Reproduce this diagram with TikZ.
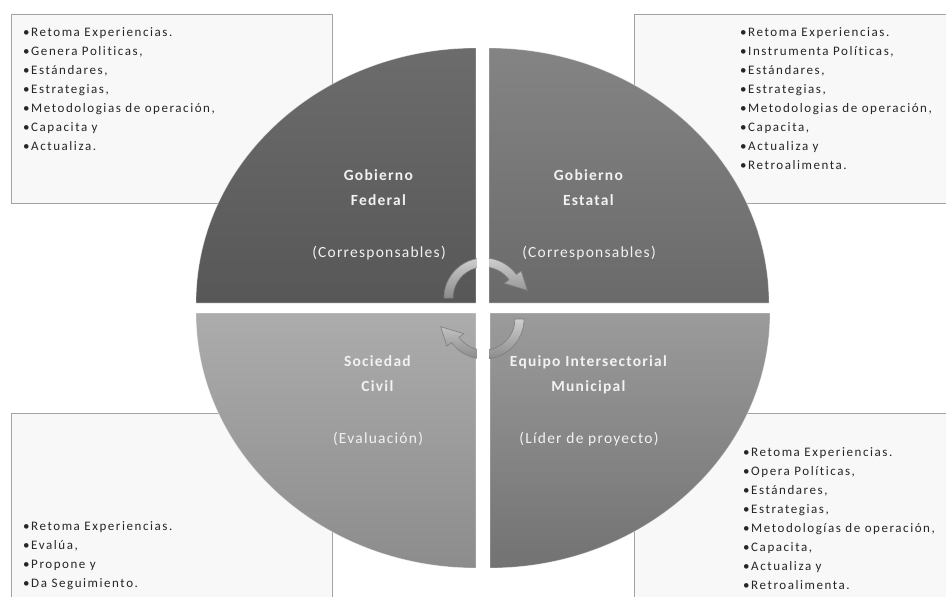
\documentclass[tikz,border=0pt]{standalone}
\usepackage{fontspec}
\setmainfont{Carlito}
\newfontfamily\listfont[LetterSpace=12, Ligatures=NoCommon]{Carlito}
\newfontfamily\labelfont[LetterSpace=8, Ligatures=NoCommon]{Carlito}
\usetikzlibrary{positioning}
\usetikzlibrary{calc}

\definecolor{panelfill}{HTML}{F8F8F8}
\definecolor{panelline}{HTML}{A3A3A3}
\definecolor{listtext}{HTML}{262626}
\definecolor{labeltext}{HTML}{F2F2F2}
\definecolor{federaltop}{HTML}{6C6C6C}
\definecolor{federalbottom}{HTML}{575757}
\definecolor{estataltop}{HTML}{848484}
\definecolor{estatalbottom}{HTML}{6A6A6A}
\definecolor{civiltop}{HTML}{ACACAC}
\definecolor{civilbottom}{HTML}{8C8C8C}
\definecolor{municipaltop}{HTML}{9B9B9B}
\definecolor{municipalbottom}{HTML}{727272}
\definecolor{turnlight}{HTML}{CFCFCF}
\definecolor{turndark}{HTML}{8A8A8A}
\definecolor{turnline}{HTML}{7E7E7E}

\begin{document}
\begin{tikzpicture}[x=1pt, y=-1pt]

\def\QuadRx{280}
\def\QuadRy{255}
\def\TurnOut{40}
\def\TurnIn{31}

% Styles
\tikzstyle{panel} =
	[draw=panelline, fill=panelfill, line width=1.2pt, anchor=north west, inner sep=0pt]

\tikzstyle{list} =
	[align=left, inner sep=0pt, text=listtext, font=\listfont\fontsize{13}{19}\selectfont]

\tikzstyle{quad} =
	[draw=white, draw opacity=0.4, line width=0.8pt]

\tikzstyle{quad label} =
	[anchor=north, align=center, inner sep=0pt, text=labeltext,
	 font=\labelfont\fontsize{15.5}{25.7}\selectfont]

\tikzstyle{turn} =
	[draw=turnline, line width=0.6pt, top color=turnlight, bottom color=turndark]

\useasboundingbox (0,0) rectangle (946,597);

% Panels

\node (FederalPanel) at (11,14) [panel, minimum width=321pt, minimum height=189pt] {};
\node (EstatalPanel) at (634,14) [panel, minimum width=320pt, minimum height=189pt] {};
\node (CivilPanel) at (11,413) [panel, minimum width=321pt, minimum height=195pt] {};
\node (MunicipalPanel) at (634,413) [panel, minimum width=320pt, minimum height=195pt] {};

\node (FederalList) [list, below right=13.5pt and 12pt of FederalPanel.north west]
	{•Retoma Experiencias.\\ •Genera Politicas,\\ •Estándares,\\ •Estrategias,\\
	 •Metodologias de operación,\\ •Capacita y\\ •Actualiza.};
\node (EstatalList) [list, below right=13.5pt and 106pt of EstatalPanel.north west]
	{•Retoma Experiencias.\\ •Instrumenta Políticas,\\ •Estándares,\\ •Estrategias,\\
	 •Metodologias de operación,\\ •Capacita,\\ •Actualiza y\\ •Retroalimenta.};
\node (CivilList) [list, below right=108.7pt and 12pt of CivilPanel.north west]
	{•Retoma Experiencias.\\ •Evalúa,\\ •Propone y\\ •Da Seguimiento.};
\node (MunicipalList) [list, below right=34.7pt and 109pt of MunicipalPanel.north west]
	{•Retoma Experiencias.\\ •Opera Políticas,\\ •Estándares,\\ •Estrategias,\\
	 •Metodologías de operación,\\ •Capacita,\\ •Actualiza y\\ •Retroalimenta.};

% Quadrants

\path[quad, top color=federaltop, bottom color=federalbottom]
	(476,303) -- (196,303)
	arc[start angle=180, end angle=270, x radius=\QuadRx, y radius=\QuadRy] -- cycle;
\path[quad, top color=estataltop, bottom color=estatalbottom]
	(489,303) -- (489,48)
	arc[start angle=270, end angle=360, x radius=\QuadRx, y radius=\QuadRy] -- cycle;
\path[quad, top color=municipaltop, bottom color=municipalbottom]
	(490,313) -- (770,313)
	arc[start angle=0, end angle=90, x radius=\QuadRx, y radius=\QuadRy] -- cycle;
\path[quad, top color=civiltop, bottom color=civilbottom]
	(476,313) -- (476,568)
	arc[start angle=90, end angle=180, x radius=\QuadRx, y radius=\QuadRy] -- cycle;

% Turning arrows

\coordinate (TopTurn) at (484,298);
\coordinate (BottomTurn) at (484,319);

\path[turn]
	($(TopTurn)+(180:\TurnOut)$)
	arc[start angle=180, end angle=324, radius=\TurnOut]
	-- ($(TopTurn)+(324:46)$) -- ($(TopTurn)+(350:44)$) -- ($(TopTurn)+(324:25)$)
	-- ($(TopTurn)+(324:\TurnIn)$)
	arc[start angle=324, end angle=180, radius=\TurnIn] -- cycle;
\path[turn]
	($(BottomTurn)+(0:\TurnOut)$)
	arc[start angle=0, end angle=144, radius=\TurnOut]
	-- ($(BottomTurn)+(144:46)$) -- ($(BottomTurn)+(170:44)$) -- ($(BottomTurn)+(144:25)$)
	-- ($(BottomTurn)+(144:\TurnIn)$)
	arc[start angle=144, end angle=0, radius=\TurnIn] -- cycle;

\fill[white] (476.5,250) rectangle (488.5,370);

% Labels

\node (FederalLabel) at (379,169) [quad label]
	{\textbf{Gobierno}\\ \textbf{Federal}\\[25.7pt] (Corresponsables)};
\node (EstatalLabel) at (589,169) [quad label]
	{\textbf{Gobierno}\\ \textbf{Estatal}\\[25.7pt] (Corresponsables)};
\node (CivilLabel) at (378,355) [quad label]
	{\textbf{Sociedad}\\ \textbf{Civil}\\[25.7pt] (Evaluación)};
\node (MunicipalLabel) at (589,355) [quad label]
	{\textbf{Equipo Intersectorial}\\ \textbf{Municipal}\\[25.7pt] (Líder de proyecto)};

\end{tikzpicture}
\end{document}
